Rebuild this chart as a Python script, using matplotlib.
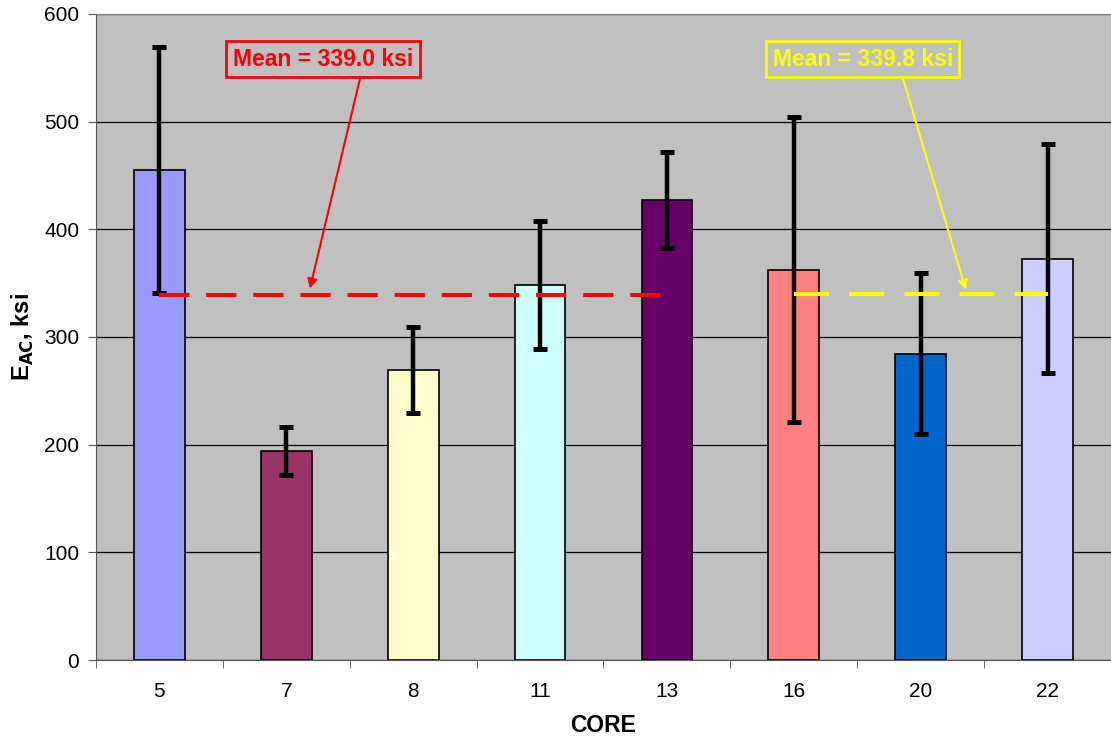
import matplotlib
matplotlib.use("Agg")
import matplotlib.pyplot as plt
import numpy as np

# data
cores = ["5", "7", "8", "11", "13", "16", "20", "22"]
e_ac = [455, 194, 269, 348, 427, 362, 284, 372]
err_hi = [569, 216, 309, 408, 472, 504, 359, 479]
err_lo = [341, 172, 229, 289, 383, 221, 210, 267]
bar_colors = ["#9999FF", "#993366", "#FFFFCC", "#CCFFFF",
              "#660066", "#FF8080", "#0066CC", "#CCCCFF"]
mean_left = 339.0
mean_right = 339.8

plt.rcParams["font.family"] = ["Liberation Sans", "DejaVu Sans"]

fig = plt.figure(figsize=(11.11, 7.44), dpi=100)
ax = fig.add_axes([0.0864, 0.1129, 0.9136, 0.8683])
ax.set_facecolor("#C0C0C0")

x = np.arange(len(cores))
ax.set_axisbelow(True)
ax.yaxis.grid(True, color="black", linewidth=0.9)

ax.bar(x, e_ac, width=0.4, color=bar_colors, edgecolor="black", linewidth=1.2, zorder=2)

vals = np.array(e_ac)
yerr = [vals - np.array(err_lo), np.array(err_hi) - vals]
ax.errorbar(x, vals, yerr=yerr, fmt="none", ecolor="black",
            elinewidth=3.2, capsize=5, capthick=3.6, zorder=3)

# mean lines
ax.plot([x[0], x[4]], [mean_left, mean_left], color="#FF0000", linewidth=2.9,
        dashes=(7.5, 4.2), zorder=4)
ax.plot([x[5], x[7]], [mean_right, mean_right], color="#FFFF00", linewidth=2.9,
        dashes=(8.7, 5), zorder=4)

ax.annotate(f"Mean = {mean_left:.1f} ksi", xy=(1.186, mean_left + 6),
            xytext=(1.289, 558), ha="center", va="center",
            fontsize=16.5, fontweight="bold", color="#FF0000",
            bbox=dict(boxstyle="square,pad=0.28", fc="#C0C0C0", ec="#FF0000", lw=2),
            arrowprops=dict(arrowstyle="-|>", color="#FF0000", lw=1.5,
                            mutation_scale=14, shrinkA=0, shrinkB=0,
                            relpos=(0.716, 0)),
            zorder=5)
ax.annotate(f"Mean = {mean_right:.1f} ksi", xy=(6.356, mean_right + 4),
            xytext=(5.544, 558), ha="center", va="center",
            fontsize=16.5, fontweight="bold", color="#FFFF00",
            bbox=dict(boxstyle="square,pad=0.28", fc="#C0C0C0", ec="#FFFF00", lw=2),
            arrowprops=dict(arrowstyle="-|>", color="#FFFF00", lw=1.5,
                            mutation_scale=14, shrinkA=0, shrinkB=0,
                            relpos=(0.71, 0)),
            zorder=5)

ax.set_xlim(-0.5, len(cores) - 0.5)
ax.set_ylim(0, 600)
ax.set_yticks(range(0, 601, 100))
ax.set_xticks(x)
ax.set_xticklabels(cores)
ax.set_xticks(np.arange(-0.5, len(cores) - 0.4, 1), minor=True)
ax.tick_params(axis="x", which="major", length=0, pad=16, labelsize=15)
ax.tick_params(axis="x", which="minor", length=6, direction="out", color="#555555")
ax.tick_params(axis="y", length=6, direction="out", labelsize=15, color="#555555", pad=6)

for side in ["top", "right"]:
    ax.spines[side].set_color("#808080")
ax.spines["left"].set_color("#555555")
ax.spines["bottom"].set_color("#555555")

ax.set_xlabel("CORE", fontsize=16.5, fontweight="bold", labelpad=9)
ax.set_ylabel(r"E$_{\mathbf{AC}}$, ksi", fontsize=17, fontweight="bold", labelpad=6)

fig.savefig("out.png", dpi=100, facecolor="white")
